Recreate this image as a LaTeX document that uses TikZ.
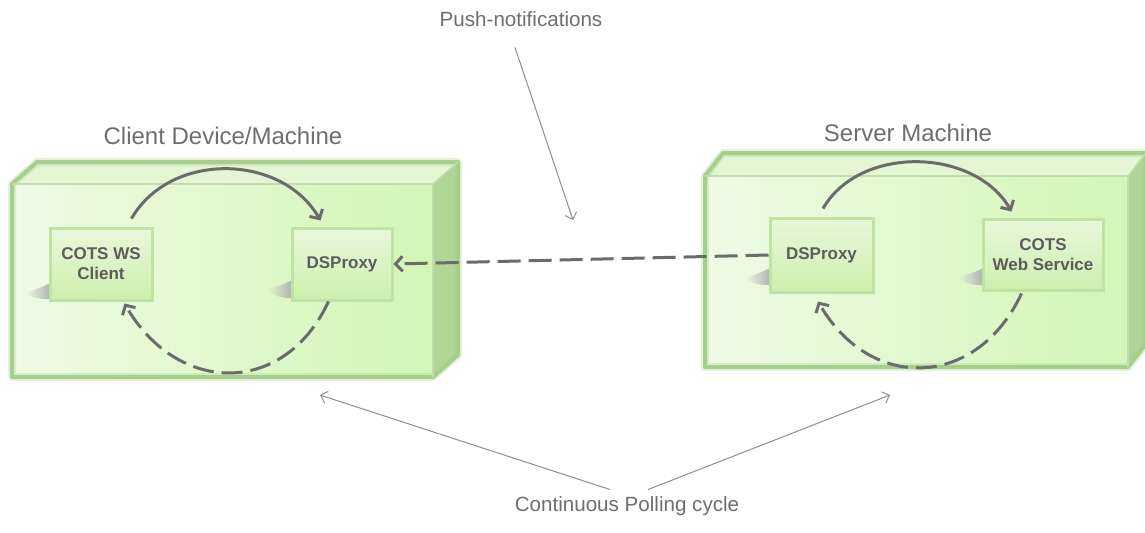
\documentclass[tikz,border=0pt]{standalone}
\usepackage{fontspec}
\setmainfont{Liberation Sans}
\usetikzlibrary{arrows.meta,fadings}

\definecolor{frontA}{HTML}{EEFBE6}
\definecolor{frontB}{HTML}{D3F6B6}
\definecolor{topface}{HTML}{E4F6D4}
\definecolor{sideface}{HTML}{B0D596}
\definecolor{rim}{HTML}{A6CF8B}
\definecolor{innerA}{HTML}{E8F8DA}
\definecolor{innerB}{HTML}{CDEFAE}
\definecolor{innerrim}{HTML}{BFE3A3}
\definecolor{flowgray}{HTML}{6B6B6B}
\definecolor{notegray}{HTML}{8E8E8E}
\definecolor{labeltext}{HTML}{6E6E6E}
\definecolor{boxtext}{HTML}{5C5C5C}

% A machine drawn as a bevelled 3D block:
% #1,#2 front top-left corner, #3,#4 front bottom-right corner, #5,#6 depth
\newcommand\machinebox[6]{%
  \fill[topface] (#1,#2) -- ({#1+#5},{#2-#6}) -- ({#3+#5},{#2-#6}) -- (#3,#2) -- cycle;
  \fill[sideface] (#3,#2) -- ({#3+#5},{#2-#6}) -- ({#3+#5},{#4-#6}) -- (#3,#4) -- cycle;
  \fill[left color=frontA, right color=frontB] (#1,#2) rectangle (#3,#4);
  \draw[rim, line width=4pt, opacity=0.3, line join=round]
    (#1,#2) -- ({#1+#5},{#2-#6}) -- ({#3+#5},{#2-#6}) -- ({#3+#5},{#4-#6}) -- (#3,#4) -- (#1,#4) -- cycle;
  \draw[rim, line width=2pt, line join=round]
    (#1,#2) -- ({#1+#5},{#2-#6}) -- ({#3+#5},{#2-#6}) -- ({#3+#5},{#4-#6}) -- (#3,#4) -- (#1,#4) -- cycle;
  \draw[rim!70, line width=0.8pt] (#1,#2) -- (#3,#2) -- (#3,#4) (#3,#2) -- ({#3+#5},{#2-#6});
}

% Soft cast shadow to the left of a component: #1 box left edge, #2 top, #3 bottom
\newcommand\dropshade[3]{%
  \fill[black!30, path fading=west]
    (#1,{#2-2}) .. controls ({#1-10},{#2+3}) .. ({#1-24},{#2+7})
    -- ({#1-24},{#2+10}) .. controls ({#1-10},{#3+1}) .. (#1,{#3+1}) -- cycle;
}

\begin{document}
\begin{tikzpicture}[x=0.5pt,y=-0.5pt,
  comp/.style={draw=innerrim, line width=1.5pt, top color=innerA, bottom color=innerB,
    inner sep=0pt, align=center, font=\fontsize{8.5}{10}\selectfont\bfseries, text=boxtext},
  boxtitle/.style={font=\fontsize{12}{14}\selectfont, text=labeltext, inner sep=0pt},
  notelabel/.style={font=\fontsize{10.3}{12}\selectfont, text=labeltext, inner sep=0pt},
  flowarc/.style={draw=flowgray, line width=1.5pt,
    -{Straight Barb[length=3.5pt,width=7.5pt]}},
  pollarc/.style={flowarc, dash pattern=on 10.5pt off 4pt},
  pointer/.style={draw=notegray, line width=0.5pt,
    -{Straight Barb[length=3pt,width=6pt]}}
]
\useasboundingbox (0,0) rectangle (1145,532);
\clip (0,0) rectangle (1145,532);

% machines
\machinebox{12}{184}{433}{377}{25}{22}
\machinebox{705}{176}{1128}{367}{18}{23}

% shadows of the components
\dropshade{50}{285}{298}
\dropshade{292}{282}{297}
\dropshade{770}{270}{284}
\dropshade{983}{270}{284}

% components
\node[comp, minimum width=51pt, minimum height=36pt] (cc) at (101,264) {COTS WS\\Client};
\node[comp, minimum width=50pt, minimum height=36pt] (cd) at (342,264) {DSProxy};
\node[comp, minimum width=51.5pt, minimum height=37pt] (sd) at (821.5,255) {DSProxy};
\node[comp, minimum width=60pt, minimum height=35.5pt] (sw) at (1043,254.5) {COTS\\Web Service};

% titles and notes
\node[boxtitle] (ct) at (223,136) {Client Device/Machine};
\node[boxtitle] (st) at (908,133) {Server Machine};
\node[notelabel] (pn) at (521,19.5) {Push-notifications};
\node[notelabel] (pc) at (627,506.5) {Continuous Polling cycle};

% request / response cycles
\draw[flowarc] ([shift={(-22,-8)}]cc.north east) to[out=60,in=120,looseness=1.05] ([shift={(30,-6)}]cd.north west);
\draw[pollarc] ([shift={(38,0)}]cd.south west) to[out=-115,in=-60,looseness=1.32] ([shift={(-29,2)}]cc.south east);
\draw[flowarc] ([shift={(1.5,-8)}]sd.north) to[out=60,in=120] ([shift={(30,-6)}]sw.north west);
\draw[pollarc] ([shift={(40,2)}]sw.south west) to[out=-115,in=-60,looseness=1.32] ([shift={(-3.5,8)}]sd.south);

% push channel between the proxies
\draw[pollarc, dash pattern=on 11.5pt off 4pt] (sd.west) -- (cd.east);

% callout pointers
\coordinate (pnTip) at (573,220);
\coordinate (lpTip) at (320,395);
\coordinate (rpTip) at (890,395);
\draw[pointer] ([shift={(-6,20)}]pn.south) -- (pnTip);
\draw[pointer] ([shift={(-17,-7)}]pc.north) -- (lpTip);
\draw[pointer] ([shift={(21,-7)}]pc.north) -- (rpTip);
\end{tikzpicture}
\end{document}
